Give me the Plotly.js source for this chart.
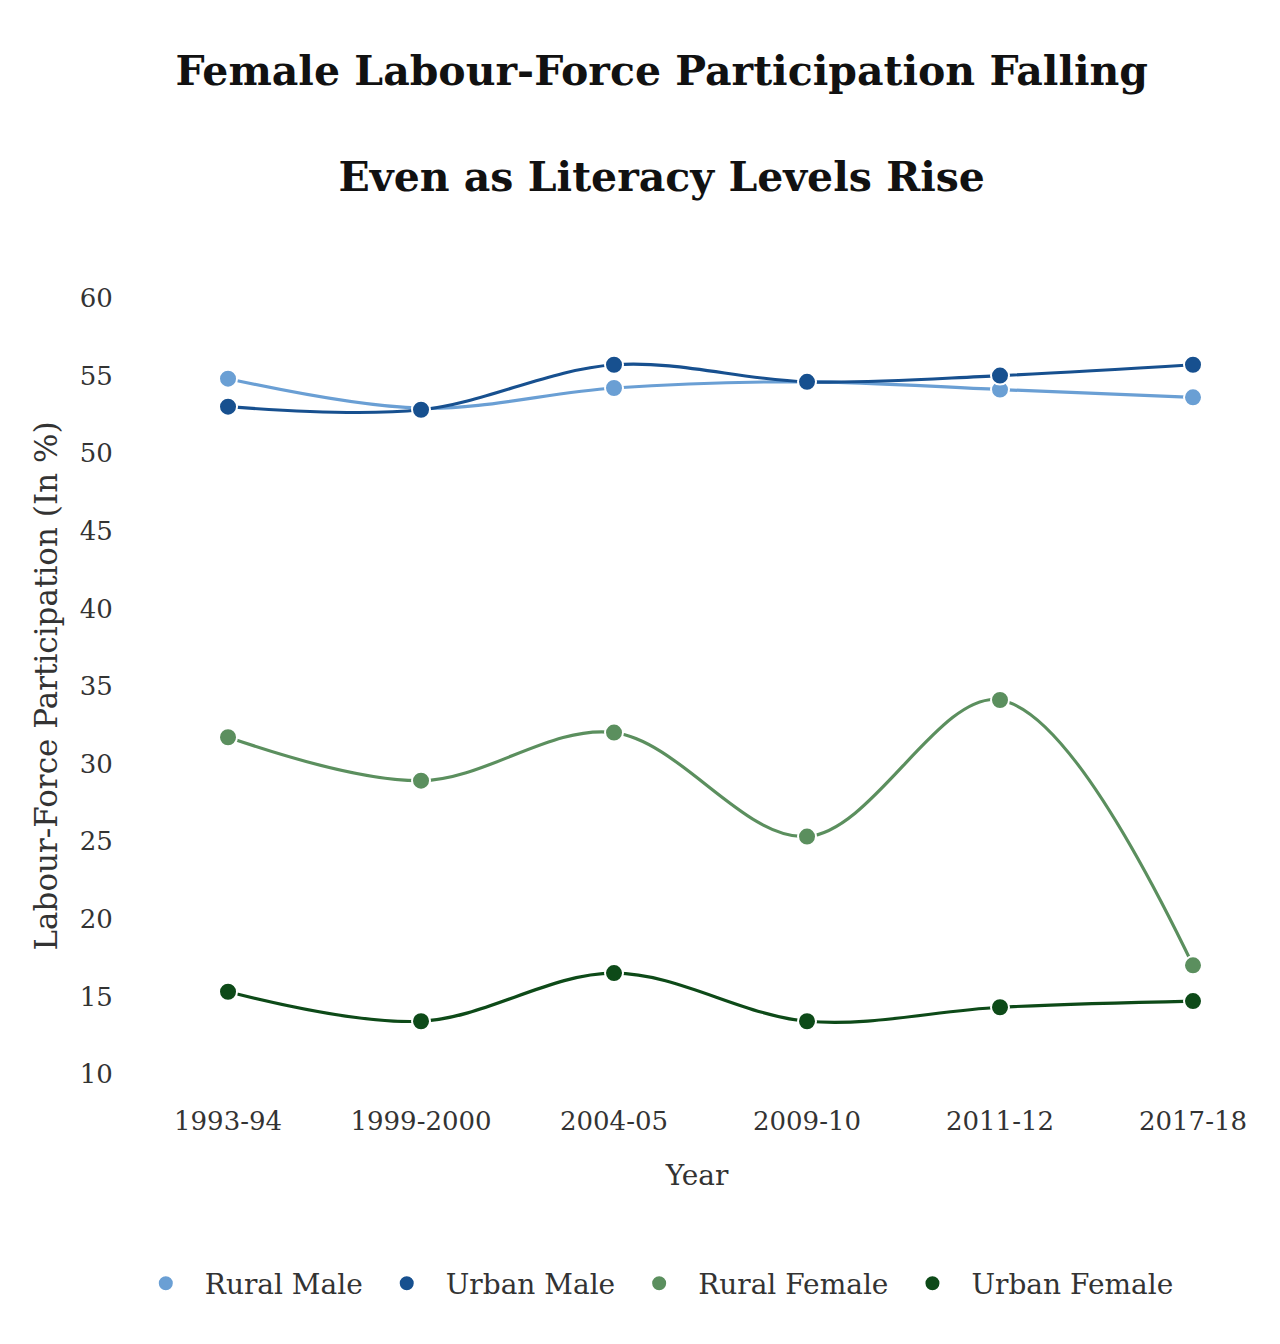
<!DOCTYPE html>
<html>
<head>
<meta charset="utf-8">
<script src="https://cdn.plot.ly/plotly-3.0.1.min.js"></script>
<style>html,body{margin:0;padding:0;background:#fff;}#chart{width:1280px;height:1344px;}</style>
</head>
<body>
<div id="chart"></div>
<script>
var years = ["1993-94", "1999-2000", "2004-05", "2009-10", "2011-12", "2017-18"];
var ruralMale = [54.8, 52.9, 54.2, 54.6, 54.1, 53.6];
var urbanMale = [53.0, 52.8, 55.7, 54.6, 55.0, 55.7];
var ruralFemale = [31.7, 28.9, 32.0, 25.3, 34.1, 17.0];
var urbanFemale = [15.3, 13.4, 16.5, 13.4, 14.3, 14.7];
var seriesNames = ["Rural Male", "Urban Male", "Rural Female", "Urban Female"];
var seriesColors = ["#6a9fd4", "#17508f", "#5b8f5e", "#0d4a18"];
var seriesValues = [ruralMale, urbanMale, ruralFemale, urbanFemale];

var serif = "DejaVu Serif, Liberation Serif, serif";
var traces = [];
seriesValues.forEach(function (vals, i) {
  traces.push({
    type: "scatter",
    mode: "lines",
    name: seriesNames[i],
    legendgroup: seriesNames[i],
    showlegend: false,
    x: years,
    y: vals,
    line: {color: seriesColors[i], width: 3.2, shape: "spline", smoothing: 1}
  });
  traces.push({
    type: "scatter",
    mode: "markers",
    name: seriesNames[i],
    legendgroup: seriesNames[i],
    x: years,
    y: vals,
    marker: {color: seriesColors[i], size: 18, line: {color: "#ffffff", width: 2}}
  });
});

var layout = {
  width: 1280,
  height: 1344,
  paper_bgcolor: "#ffffff",
  plot_bgcolor: "#ffffff",
  margin: {l: 135, r: 21, t: 298, b: 270, autoexpand: false},
  title: {
    text: "<b>Female Labour-Force Participation Falling<br><br>Even as Literacy Levels Rise</b>",
    font: {family: serif, size: 41, color: "#111111"},
    xref: "container", x: 0.517, xanchor: "center",
    yref: "container", y: 0.937, yanchor: "top"
  },
  showlegend: true,
  legend: {
    orientation: "h",
    x: 0.51, xref: "container", xanchor: "center",
    y: -0.27, yanchor: "middle",
    font: {family: serif, size: 28, color: "#333333"},
    itemsizing: "trace",
    itemwidth: 68,
    tracegroupgap: 0
  },
  xaxis: {
    type: "category",
    range: [-0.482, 5.342],
    showgrid: false, zeroline: false, showline: false,
    ticks: "outside", ticklen: 24, tickcolor: "rgba(0,0,0,0)",
    tickfont: {family: serif, size: 26, color: "#333333"},
    title: {text: "Year", font: {family: serif, size: 28, color: "#333333"}, standoff: 30}
  },
  yaxis: {
    range: [10, 60],
    dtick: 5,
    showgrid: false, zeroline: false, showline: false,
    ticks: "outside", ticklen: 16, tickcolor: "rgba(0,0,0,0)",
    tickfont: {family: serif, size: 26, color: "#333333"},
    title: {text: "Labour-Force Participation (In %)", font: {family: serif, size: 31, color: "#333333"}, standoff: 12}
  }
};

Plotly.newPlot("chart", traces, layout, {displayModeBar: false, staticPlot: true});
</script>
</body>
</html>
